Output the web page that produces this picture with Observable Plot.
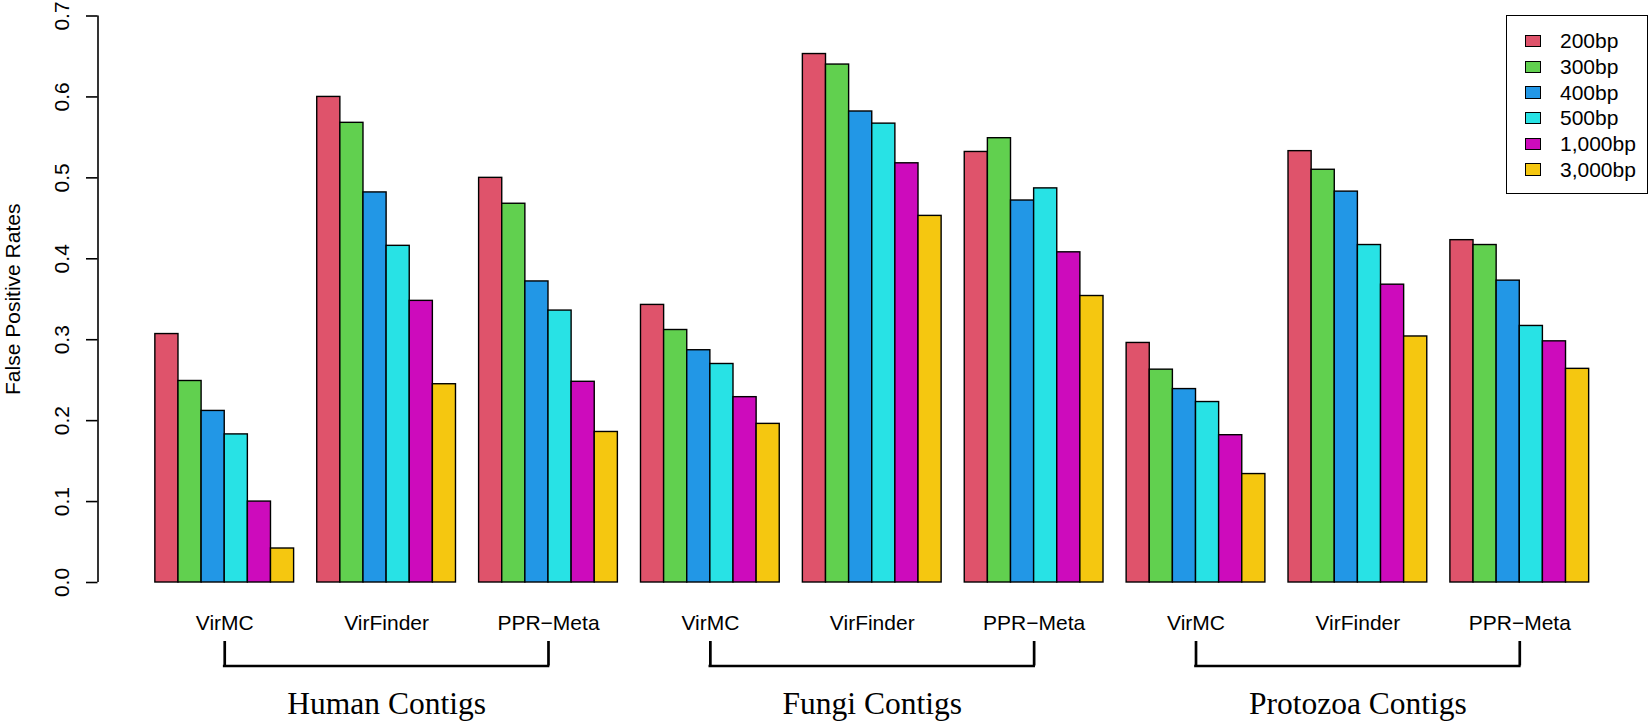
<!DOCTYPE html>
<html>
<head>
<meta charset="utf-8">
<script src="https://cdn.jsdelivr.net/npm/d3@7"></script>
<script src="https://cdn.jsdelivr.net/npm/@observablehq/plot@0.6"></script>
<style>
  body { margin: 0; background: #fff; }
  #wrap { position: relative; width: 1650px; height: 721px; overflow: hidden; }
  #legend { position: absolute; left: 1506px; top: 15px; width: 142px; height: 179px;
            border: 1.4px solid #000; box-sizing: border-box; background: #fff;
            font-family: "Liberation Sans", Arial, sans-serif; font-size: 21px; color: #000; }
  .sw { position: absolute; left: 18px; width: 15.5px; height: 12.3px; border: 1.3px solid #000; box-sizing: border-box; }
  .lb { position: absolute; left: 53px; height: 24px; line-height: 24px; white-space: nowrap; }
</style>
</head>
<body>
<div id="wrap"></div>
<script>
// ---- data ----
const datasets = ["Human Contigs", "Fungi Contigs", "Protozoa Contigs"];
const tools = ["VirMC", "VirFinder", "PPR\u2212Meta"];
const lengths = ["200bp", "300bp", "400bp", "500bp", "1,000bp", "3,000bp"];
const colors = ["#DF536B", "#61D04F", "#2297E6", "#28E2E5", "#CD0BBC", "#F5C710"];
const yTicks = [0, 0.1, 0.2, 0.3, 0.4, 0.5, 0.6, 0.7];
const yTitle = "False Positive Rates";

const humanVirMC     = [0.307, 0.249, 0.212, 0.183, 0.100, 0.042];
const humanVirFinder = [0.600, 0.568, 0.482, 0.416, 0.348, 0.245];
const humanPPRMeta   = [0.500, 0.468, 0.372, 0.336, 0.248, 0.186];
const fungiVirMC     = [0.343, 0.312, 0.287, 0.270, 0.229, 0.196];
const fungiVirFinder = [0.653, 0.640, 0.582, 0.567, 0.518, 0.453];
const fungiPPRMeta   = [0.532, 0.549, 0.472, 0.487, 0.408, 0.354];
const protoVirMC     = [0.296, 0.263, 0.239, 0.223, 0.182, 0.134];
const protoVirFinder = [0.533, 0.510, 0.483, 0.417, 0.368, 0.304];
const protoPPRMeta   = [0.423, 0.417, 0.373, 0.317, 0.298, 0.264];

const series = [
  [humanVirMC, humanVirFinder, humanPPRMeta],
  [fungiVirMC, fungiVirFinder, fungiPPRMeta],
  [protoVirMC, protoVirFinder, protoPPRMeta]
];

// ---- layout in bar-width units (R barplot style: 1 gap unit before each group) ----
const perGroup = lengths.length + 1;
const xDomain = [-1.48, 65.48];

const bars = [];
const groupRows = [];
const datasetRows = [];
const bracketEnds = [];
datasets.forEach((ds, d) => {
  tools.forEach((tool, t) => {
    const g = d * tools.length + t;
    const start = 1 + perGroup * g;
    groupRows.push({ tool, uc: start + lengths.length / 2 });
    series[d][t].forEach((v, j) => {
      bars.push({ dataset: ds, tool, length: lengths[j], value: v, u1: start + j, u2: start + j + 1 });
    });
  });
  const first = groupRows[d * tools.length].uc;
  const mid = groupRows[d * tools.length + 1].uc;
  const last = groupRows[d * tools.length + 2].uc;
  datasetRows.push({ name: ds, ua: first, ub: last, uc: mid });
  bracketEnds.push({ u: first }, { u: last });
});

const font = "Liberation Sans, Arial, sans-serif";

const plot = Plot.plot({
  width: 1650,
  height: 721,
  marginLeft: 97.5,
  marginRight: 4,
  marginTop: 15.5,
  marginBottom: 139,
  style: { fontFamily: font, background: "white", overflow: "visible" },
  x: { domain: xDomain, axis: null },
  y: { domain: [0, 0.7] },
  color: { domain: lengths, range: colors },
  marks: [
    Plot.rectY(bars, { x1: "u1", x2: "u2", y: "value", fill: "length", stroke: "black", strokeWidth: 1.4 }),
    Plot.axisY({ ticks: yTicks, tickSize: 11.5, tickFormat: () => "", label: null, strokeWidth: 1.6 }),
    Plot.ruleX([xDomain[0]], { y1: 0, y2: 0.7, strokeWidth: 1.6 }),
    Plot.text(yTicks, { y: (d) => d, text: (d) => d.toFixed(1), frameAnchor: "left", dx: -36.2,
      rotate: -90, textAnchor: "middle", lineAnchor: "middle", fontSize: 21, fill: "black" }),
    Plot.text([yTitle], { text: (d) => d, frameAnchor: "left", dx: -84.5, rotate: -90,
      textAnchor: "middle", lineAnchor: "middle", fontSize: 21, fill: "black" }),
    Plot.text(groupRows, { x: "uc", text: "tool", frameAnchor: "bottom", dy: 40.6,
      textAnchor: "middle", lineAnchor: "middle", fontSize: 21, fill: "black" }),
    Plot.ruleY(datasetRows, { y: () => 0, x1: "ua", x2: "ub", dy: 83.5, strokeWidth: 2.7, strokeLinecap: "square" }),
    Plot.ruleX(bracketEnds, { x: "u", dy: 83.5, insetTop: 542, strokeWidth: 2.7 }),
    Plot.text(datasetRows, { x: "uc", text: "name", frameAnchor: "bottom", dy: 121,
      textAnchor: "middle", lineAnchor: "middle", fontSize: 31.5,
      fontFamily: "Liberation Serif, Times New Roman, serif", fill: "black" })
  ]
});

const wrap = document.getElementById("wrap");
wrap.appendChild(plot);

// ---- legend (colors from the plot's own color scale) ----
const color = plot.scale("color");
const legend = document.createElement("div");
legend.id = "legend";
lengths.forEach((len, i) => {
  const cy = 26.7 + 25.66 * i;
  const sw = document.createElement("div");
  sw.className = "sw";
  sw.style.top = (cy - 6.15 - 1.4) + "px";
  sw.style.background = color.apply(len);
  const lb = document.createElement("div");
  lb.className = "lb";
  lb.style.top = (cy - 12 - 1.4) + "px";
  lb.textContent = len;
  legend.appendChild(sw);
  legend.appendChild(lb);
});
wrap.appendChild(legend);
</script>
</body>
</html>
